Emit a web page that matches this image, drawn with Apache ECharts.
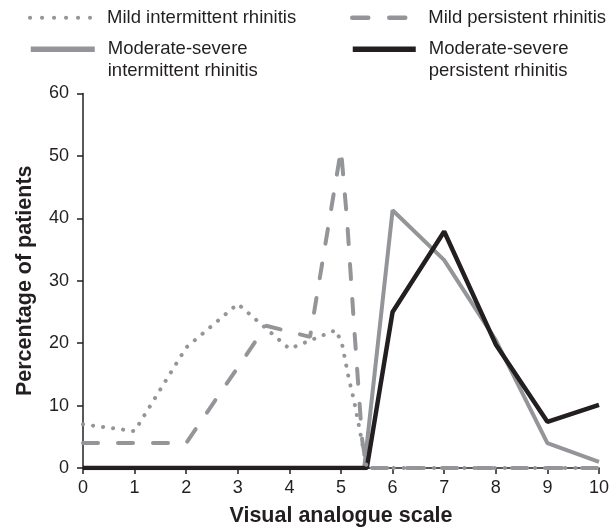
<!DOCTYPE html>
<html>
<head>
<meta charset="utf-8">
<script src="https://cdn.jsdelivr.net/npm/echarts@6/dist/echarts.min.js"></script>
<style>
  html, body { margin: 0; padding: 0; background: #fff; }
  #chart { width: 612px; height: 532px; }
</style>
</head>
<body>
<div id="chart"></div>
<script>
// x axis ticks
var xTicks = [0, 1, 2, 3, 4, 5, 6, 7, 8, 9, 10];

// Mild intermittent rhinitis (dotted)
var mildIntX = [0, 1, 2, 3, 4, 4.9, 5.02, 5.15, 5.25, 5.37, 5.5, 6, 7, 8, 9, 10];
var mildIntY = [7, 5.9, 19.3, 26.3, 19.1, 22.1, 19.9, 14.4, 10.9, 5.8, 0, 0, 0, 0, 0, 0];

// Mild persistent rhinitis (dashed)
var mildPersX = [0, 1, 2, 3.55, 4.4, 5.0, 5.12, 5.25, 5.41, 5.5, 6, 7, 8, 9, 10];
var mildPersY = [4, 4, 4, 22.8, 21, 51, 39.5, 23.2, 4.5, 0, 0, 0, 0, 0, 0];

// Moderate-severe intermittent rhinitis (grey solid)
var modIntX = [0, 5.45, 6, 7, 8, 9, 10];
var modIntY = [0, 0, 41.3, 33.3, 20.5, 4, 1];

// Moderate-severe persistent rhinitis (black solid)
var modPersX = [0, 5.5, 6, 7, 8, 9, 10];
var modPersY = [0, 0, 25, 37.9, 19.8, 7.4, 10.1];

var grey = '#939598';
var dark = '#231f20';
var font = '"Liberation Sans", Arial, sans-serif';

var dotStyle = { color: grey, width: 4, type: [0.1, 10], cap: 'round' };
var dashStyle = { color: grey, width: 4, type: [15, 20], cap: 'round' };
var greyStyle = { color: grey, width: 4 };
var darkStyle = { color: dark, width: 4.5 };

function zip(xs, ys) {
    var out = [];
    for (var i = 0; i < xs.length; i++) {
        out.push([xs[i], ys[i]]);
    }
    return out;
}

var myChart = echarts.init(document.getElementById('chart'));

// one legend per item so each can sit where the original puts it
function legendAt(name, left, top, lineStyle, iconLen, gap) {
    return {
        data: [name],
        left: left,
        top: top,
        padding: 0,
        itemWidth: iconLen,
        itemHeight: 14,
        selectedMode: false,
        itemStyle: { opacity: 0 },
        lineStyle: lineStyle,
        formatter: function (n) {
            // blank first line keeps the first text line level with the icon
            return n.indexOf('Moderate-severe ') === 0 ? '\n' + n.replace('Moderate-severe ', 'Moderate-severe\n') : n;
        },
        textStyle: {
            fontFamily: font,
            fontSize: 18.5,
            color: dark,
            lineHeight: 21.5,
            padding: [0, 0, 0, gap]
        }
    };
}

var option = {
    animation: false,
    backgroundColor: '#fff',
    legend: [
        legendAt('Mild intermittent rhinitis', 28, 7,
            { color: grey, width: 4, type: [0.1, 11.9], cap: 'round' }, 60, 12),
        legendAt('Mild persistent rhinitis', 350, 7,
            { color: grey, width: 4.5, type: [16, 21], cap: 'round' }, 57, 14),
        legendAt('Moderate-severe intermittent rhinitis', 28, 17,
            { color: grey, width: 5.5 }, 64, 8),
        legendAt('Moderate-severe persistent rhinitis', 350, 17,
            { color: dark, width: 5.5 }, 63, 8)
    ],
    grid: {
        left: 83,
        right: 9,
        top: 93.5,
        bottom: 64
    },
    xAxis: {
        type: 'value',
        min: 0,
        max: 10,
        interval: 1,
        name: 'Visual analogue scale',
        nameLocation: 'middle',
        nameGap: 37,
        nameTextStyle: { fontFamily: font, fontSize: 21.5, fontWeight: 'bold', color: dark },
        axisLine: { lineStyle: { color: dark, width: 1.5 } },
        axisTick: { length: 6, lineStyle: { color: dark, width: 1.5 } },
        axisLabel: { fontFamily: font, fontSize: 18, color: dark, margin: 11 },
        splitLine: { show: false }
    },
    yAxis: {
        type: 'value',
        min: 0,
        max: 60,
        interval: 10,
        name: 'Percentage of patients',
        nameLocation: 'middle',
        nameGap: 47,
        nameTextStyle: { fontFamily: font, fontSize: 21.5, fontWeight: 'bold', color: dark },
        axisLine: { show: true, lineStyle: { color: dark, width: 1.5 } },
        axisTick: { show: true, length: 6, lineStyle: { color: dark, width: 1.5 } },
        axisLabel: { fontFamily: font, fontSize: 18, color: dark, margin: 14 },
        splitLine: { show: false }
    },
    series: [
        {
            name: 'Moderate-severe intermittent rhinitis',
            type: 'line',
            symbol: 'none',
            data: zip(modIntX, modIntY),
            lineStyle: greyStyle,
            itemStyle: { color: grey }
        },
        {
            name: 'Moderate-severe persistent rhinitis',
            type: 'line',
            symbol: 'none',
            data: zip(modPersX, modPersY),
            lineStyle: darkStyle,
            itemStyle: { color: dark }
        },
        {
            name: 'Mild intermittent rhinitis',
            type: 'line',
            symbol: 'none',
            data: zip(mildIntX, mildIntY),
            lineStyle: dotStyle,
            itemStyle: { color: grey }
        },
        {
            name: 'Mild persistent rhinitis',
            type: 'line',
            symbol: 'none',
            data: zip(mildPersX, mildPersY),
            lineStyle: dashStyle,
            itemStyle: { color: grey }
        }
    ]
};

myChart.setOption(option);
</script>
</body>
</html>
